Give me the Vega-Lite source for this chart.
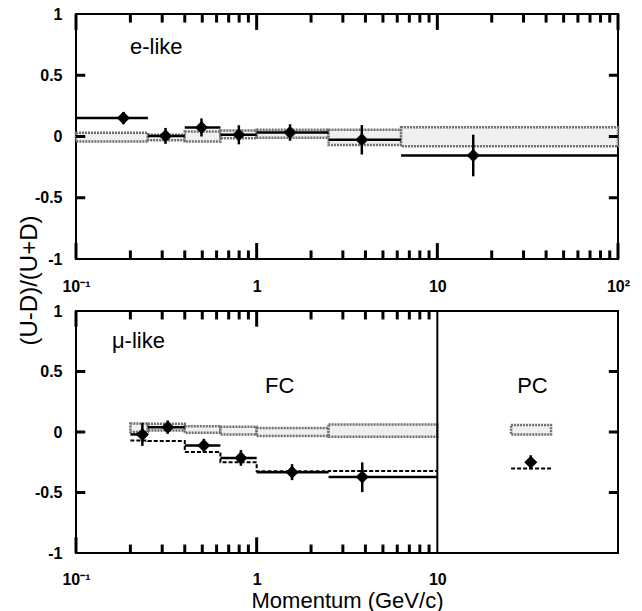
{
  "$schema": "https://vega.github.io/schema/vega-lite/v6.json",
  "background": "white",
  "padding": {"left": 16, "top": 5, "right": 5, "bottom": 0},
  "config": {
    "font": "Liberation Sans",
    "view": {"stroke": "black", "strokeWidth": 2},
    "axis": {
      "domain": false, "grid": false, "ticks": false,
      "labelColor": "black", "labelFont": "Liberation Sans", "labelFontSize": 16, "labelFontWeight": "bold",
      "titleColor": "black", "titleFont": "Liberation Sans", "titleFontWeight": "normal",
      "labelOverlap": false, "labelFlush": false
    }
  },
  "datasets": {
    "e": [
      {"lo": 0.1, "hi": 0.25, "p": 0.183, "a": 0.151, "alo": 0.10, "ahi": 0.20, "mlo": -0.04, "mhi": 0.03},
      {"lo": 0.25, "hi": 0.4, "p": 0.313, "a": 0.005, "alo": -0.06, "ahi": 0.07, "mlo": -0.03, "mhi": 0.015},
      {"lo": 0.4, "hi": 0.63, "p": 0.495, "a": 0.074, "alo": 0.0, "ahi": 0.148, "mlo": -0.04, "mhi": 0.04},
      {"lo": 0.63, "hi": 1.0, "p": 0.797, "a": 0.014, "alo": -0.064, "ahi": 0.092, "mlo": -0.015, "mhi": 0.05},
      {"lo": 1.0, "hi": 2.5, "p": 1.53, "a": 0.033, "alo": -0.035, "ahi": 0.10, "mlo": -0.01, "mhi": 0.055},
      {"lo": 2.5, "hi": 6.3, "p": 3.82, "a": -0.027, "alo": -0.147, "ahi": 0.093, "mlo": -0.07, "mhi": 0.055},
      {"lo": 6.3, "hi": 100, "p": 15.8, "a": -0.155, "alo": -0.325, "ahi": 0.015, "mlo": -0.08, "mhi": 0.075}
    ],
    "mu": [
      {"lo": 0.2, "hi": 0.25, "p": 0.233, "a": -0.02, "alo": -0.115, "ahi": 0.075, "mlo": 0.0, "mhi": 0.07},
      {"lo": 0.25, "hi": 0.4, "p": 0.322, "a": 0.04, "alo": -0.015, "ahi": 0.095, "mlo": 0.012, "mhi": 0.068},
      {"lo": 0.4, "hi": 0.63, "p": 0.51, "a": -0.112, "alo": -0.167, "ahi": -0.057, "mlo": -0.007, "mhi": 0.048},
      {"lo": 0.63, "hi": 1.0, "p": 0.818, "a": -0.214, "alo": -0.279, "ahi": -0.149, "mlo": -0.02, "mhi": 0.043},
      {"lo": 1.0, "hi": 2.5, "p": 1.57, "a": -0.332, "alo": -0.398, "ahi": -0.266, "mlo": -0.034, "mhi": 0.034},
      {"lo": 2.5, "hi": 10, "p": 3.84, "a": -0.372, "alo": -0.497, "ahi": -0.251, "mlo": -0.04, "mhi": 0.062}
    ],
    "muosc": [
      {"x": 0.2, "y": -0.07},
      {"x": 0.25, "y": -0.075},
      {"x": 0.4, "y": -0.165},
      {"x": 0.63, "y": -0.25},
      {"x": 1.0, "y": -0.325},
      {"x": 2.5, "y": -0.322},
      {"x": 10, "y": -0.322}
    ],
    "pc": [
      {"lo": 25.6, "hi": 42.6, "p": 32.9, "a": -0.25, "alo": -0.308, "ahi": -0.192, "mlo": -0.02, "mhi": 0.057, "osc": -0.302}
    ],
    "divider": [{"x": 10}],
    "textTop": [{"x": 0.199, "y": 0.73, "t": "e-like"}],
    "textBotLeft": [{"x": 0.158, "y": 0.75, "t": "μ-like"}],
    "textBotCenter": [
      {"x": 1.34, "y": 0.38, "t": "FC"},
      {"x": 33.6, "y": 0.38, "t": "PC"}
    ],
    "xticks": [
      {"v": 0.1, "m": 1}, {"v": 0.2, "m": 0}, {"v": 0.3, "m": 0}, {"v": 0.4, "m": 0}, {"v": 0.5, "m": 0},
      {"v": 0.6, "m": 0}, {"v": 0.7, "m": 0}, {"v": 0.8, "m": 0}, {"v": 0.9, "m": 0},
      {"v": 1, "m": 1}, {"v": 2, "m": 0}, {"v": 3, "m": 0}, {"v": 4, "m": 0}, {"v": 5, "m": 0},
      {"v": 6, "m": 0}, {"v": 7, "m": 0}, {"v": 8, "m": 0}, {"v": 9, "m": 0},
      {"v": 10, "m": 1}, {"v": 20, "m": 0}, {"v": 30, "m": 0}, {"v": 40, "m": 0}, {"v": 50, "m": 0},
      {"v": 60, "m": 0}, {"v": 70, "m": 0}, {"v": 80, "m": 0}, {"v": 90, "m": 0}, {"v": 100, "m": 1}
    ],
    "yticks": [{"v": -0.5}, {"v": 0}, {"v": 0.5}]
  },
  "bounds": "flush",
  "spacing": 52,
  "vconcat": [
    {
      "width": 542,
      "height": 245,
      "resolve": {"axis": {"x": "independent", "y": "independent"}},
      "layer": [
        {
          "data": {"name": "e"},
          "mark": {"type": "rect", "fill": "#f0f0f0", "stroke": "#6e6e6e", "strokeWidth": 2.5, "strokeDash": [2, 1]},
          "encoding": {
            "x": {"field": "lo", "type": "quantitative",
              "scale": {"type": "log", "domain": [0.1, 100], "nice": false},
              "axis": {"orient": "bottom", "title": null, "ticks": false,
                "values": [0.1, 1, 10, 100],
                "labelPadding": 19,
                "labelExpr": "datum.value == 0.1 ? '10⁻¹' : datum.value == 1 ? '1' : datum.value == 10 ? '10' : datum.value == 100 ? '10²' : ''"}},
            "x2": {"field": "hi"},
            "y": {"field": "mlo", "type": "quantitative",
              "scale": {"domain": [-1, 1], "nice": false},
              "axis": {"orient": "left", "values": [-1, -0.5, 0, 0.5, 1], "ticks": false, "labelPadding": 14,
                "labelExpr": "toString(datum.value)",
                "title": "(U-D)/(U+D)", "titleFontSize": 24, "titleX": -47, "titleY": 266,
                "titleAngle": -90, "titleAlign": "center", "titleBaseline": "middle"}},
            "y2": {"field": "mhi"}
          }
        },
        {
          "data": {"name": "e"},
          "mark": {"type": "rule", "strokeWidth": 2.5, "color": "black"},
          "encoding": {
            "x": {"field": "lo", "type": "quantitative", "scale": {"type": "log", "domain": [0.1, 100], "nice": false}, "axis": null},
            "x2": {"field": "hi"},
            "y": {"field": "a", "type": "quantitative", "scale": {"domain": [-1, 1], "nice": false}, "axis": null}
          }
        },
        {
          "data": {"name": "e"},
          "mark": {"type": "rule", "strokeWidth": 2.5, "color": "black"},
          "encoding": {
            "x": {"field": "p", "type": "quantitative", "scale": {"type": "log", "domain": [0.1, 100], "nice": false}, "axis": null},
            "y": {"field": "alo", "type": "quantitative", "scale": {"domain": [-1, 1], "nice": false}, "axis": null},
            "y2": {"field": "ahi"}
          }
        },
        {
          "data": {"name": "e"},
          "mark": {"type": "point", "shape": "diamond", "filled": true, "size": 170, "color": "black", "opacity": 1},
          "encoding": {
            "x": {"field": "p", "type": "quantitative", "scale": {"type": "log", "domain": [0.1, 100], "nice": false}, "axis": null},
            "y": {"field": "a", "type": "quantitative", "scale": {"domain": [-1, 1], "nice": false}, "axis": null}
          }
        },
        {
          "data": {"name": "textTop"},
          "mark": {"type": "text", "fontSize": 22, "font": "Liberation Sans", "color": "black", "align": "left", "baseline": "middle"},
          "encoding": {
            "x": {"field": "x", "type": "quantitative", "scale": {"type": "log", "domain": [0.1, 100], "nice": false}, "axis": null},
            "y": {"field": "y", "type": "quantitative", "scale": {"domain": [-1, 1], "nice": false}, "axis": null},
            "text": {"field": "t"}
          }
        },
        {
          "data": {"name": "xticks"},
          "transform": [{"filter": "datum.m == 0"}],
          "mark": {"type": "rule", "strokeWidth": 3, "color": "black"},
          "encoding": {
            "x": {"field": "v", "type": "quantitative", "scale": {"type": "log", "domain": [0.1, 100], "nice": false}, "axis": null},
            "y": {"datum": -1, "type": "quantitative", "scale": {"domain": [-1, 1], "nice": false}, "axis": null},
            "y2": {"datum": -0.93}
          }
        },
        {
          "data": {"name": "xticks"},
          "transform": [{"filter": "datum.m == 0"}],
          "mark": {"type": "rule", "strokeWidth": 3, "color": "black"},
          "encoding": {
            "x": {"field": "v", "type": "quantitative", "scale": {"type": "log", "domain": [0.1, 100], "nice": false}, "axis": null},
            "y": {"datum": 1, "type": "quantitative", "scale": {"domain": [-1, 1], "nice": false}, "axis": null},
            "y2": {"datum": 0.93}
          }
        },
        {
          "data": {"name": "xticks"},
          "transform": [{"filter": "datum.m == 1"}],
          "mark": {"type": "rule", "strokeWidth": 3, "color": "black"},
          "encoding": {
            "x": {"field": "v", "type": "quantitative", "scale": {"type": "log", "domain": [0.1, 100], "nice": false}, "axis": null},
            "y": {"datum": -1, "type": "quantitative", "scale": {"domain": [-1, 1], "nice": false}, "axis": null},
            "y2": {"datum": -0.87}
          }
        },
        {
          "data": {"name": "xticks"},
          "transform": [{"filter": "datum.m == 1"}],
          "mark": {"type": "rule", "strokeWidth": 3, "color": "black"},
          "encoding": {
            "x": {"field": "v", "type": "quantitative", "scale": {"type": "log", "domain": [0.1, 100], "nice": false}, "axis": null},
            "y": {"datum": 1, "type": "quantitative", "scale": {"domain": [-1, 1], "nice": false}, "axis": null},
            "y2": {"datum": 0.87}
          }
        },
        {
          "data": {"name": "yticks"},
          "mark": {"type": "rule", "strokeWidth": 3, "color": "black"},
          "encoding": {
            "y": {"field": "v", "type": "quantitative", "scale": {"domain": [-1, 1], "nice": false}, "axis": null},
            "x": {"datum": 0.1, "type": "quantitative", "scale": {"type": "log", "domain": [0.1, 100], "nice": false}, "axis": null},
            "x2": {"datum": 0.1125}
          }
        },
        {
          "data": {"name": "yticks"},
          "mark": {"type": "rule", "strokeWidth": 3, "color": "black"},
          "encoding": {
            "y": {"field": "v", "type": "quantitative", "scale": {"domain": [-1, 1], "nice": false}, "axis": null},
            "x": {"datum": 89, "type": "quantitative", "scale": {"type": "log", "domain": [0.1, 100], "nice": false}, "axis": null},
            "x2": {"datum": 100}
          }
        }
      ]
    },
    {
      "width": 542,
      "height": 242,
      "resolve": {"axis": {"x": "independent", "y": "independent"}},
      "layer": [
        {
          "data": {"name": "mu"},
          "mark": {"type": "rect", "fill": "#f0f0f0", "stroke": "#6e6e6e", "strokeWidth": 2.5, "strokeDash": [2, 1]},
          "encoding": {
            "x": {"field": "lo", "type": "quantitative",
              "scale": {"type": "log", "domain": [0.1, 100], "nice": false},
              "axis": {"orient": "bottom", "ticks": false,
                "values": [0.1, 1, 10],
                "labelPadding": 18,
                "labelExpr": "datum.value == 0.1 ? '10⁻¹' : datum.value == 1 ? '1' : datum.value == 10 ? '10' : ''",
                "title": "Momentum (GeV/c)", "titleFontSize": 22, "titleY": 47, "titleBaseline": "middle"}},
            "x2": {"field": "hi"},
            "y": {"field": "mlo", "type": "quantitative",
              "scale": {"domain": [-1, 1], "nice": false},
              "axis": {"orient": "left", "values": [-1, -0.5, 0, 0.5, 1], "ticks": false, "labelPadding": 14,
                "labelExpr": "toString(datum.value)", "title": null}},
            "y2": {"field": "mhi"}
          }
        },
        {
          "data": {"name": "mu"},
          "mark": {"type": "rule", "strokeWidth": 2.5, "color": "black"},
          "encoding": {
            "x": {"field": "lo", "type": "quantitative", "scale": {"type": "log", "domain": [0.1, 100], "nice": false}, "axis": null},
            "x2": {"field": "hi"},
            "y": {"field": "a", "type": "quantitative", "scale": {"domain": [-1, 1], "nice": false}, "axis": null}
          }
        },
        {
          "data": {"name": "pc"},
          "mark": {"type": "rect", "fill": "#f0f0f0", "stroke": "#6e6e6e", "strokeWidth": 2.5, "strokeDash": [2, 1]},
          "encoding": {
            "x": {"field": "lo", "type": "quantitative", "scale": {"type": "log", "domain": [0.1, 100], "nice": false}, "axis": null},
            "x2": {"field": "hi"},
            "y": {"field": "mlo", "type": "quantitative", "scale": {"domain": [-1, 1], "nice": false}, "axis": null},
            "y2": {"field": "mhi"}
          }
        },
        {
          "data": {"name": "pc"},
          "mark": {"type": "rule", "strokeWidth": 2, "color": "black", "strokeDash": [4, 2]},
          "encoding": {
            "x": {"field": "lo", "type": "quantitative", "scale": {"type": "log", "domain": [0.1, 100], "nice": false}, "axis": null},
            "x2": {"field": "hi"},
            "y": {"field": "osc", "type": "quantitative", "scale": {"domain": [-1, 1], "nice": false}, "axis": null}
          }
        },
        {
          "data": {"name": "muosc"},
          "mark": {"type": "line", "interpolate": "step-after", "strokeWidth": 2, "color": "black", "strokeDash": [4, 2]},
          "encoding": {
            "x": {"field": "x", "type": "quantitative", "scale": {"type": "log", "domain": [0.1, 100], "nice": false}, "axis": null},
            "y": {"field": "y", "type": "quantitative", "scale": {"domain": [-1, 1], "nice": false}, "axis": null}
          }
        },
        {
          "data": {"name": "mu"},
          "mark": {"type": "rule", "strokeWidth": 2.5, "color": "black"},
          "encoding": {
            "x": {"field": "p", "type": "quantitative", "scale": {"type": "log", "domain": [0.1, 100], "nice": false}, "axis": null},
            "y": {"field": "alo", "type": "quantitative", "scale": {"domain": [-1, 1], "nice": false}, "axis": null},
            "y2": {"field": "ahi"}
          }
        },
        {
          "data": {"name": "pc"},
          "mark": {"type": "rule", "strokeWidth": 2.5, "color": "black"},
          "encoding": {
            "x": {"field": "p", "type": "quantitative", "scale": {"type": "log", "domain": [0.1, 100], "nice": false}, "axis": null},
            "y": {"field": "alo", "type": "quantitative", "scale": {"domain": [-1, 1], "nice": false}, "axis": null},
            "y2": {"field": "ahi"}
          }
        },
        {
          "data": {"name": "mu"},
          "mark": {"type": "point", "shape": "diamond", "filled": true, "size": 170, "color": "black", "opacity": 1},
          "encoding": {
            "x": {"field": "p", "type": "quantitative", "scale": {"type": "log", "domain": [0.1, 100], "nice": false}, "axis": null},
            "y": {"field": "a", "type": "quantitative", "scale": {"domain": [-1, 1], "nice": false}, "axis": null}
          }
        },
        {
          "data": {"name": "pc"},
          "mark": {"type": "point", "shape": "diamond", "filled": true, "size": 170, "color": "black", "opacity": 1},
          "encoding": {
            "x": {"field": "p", "type": "quantitative", "scale": {"type": "log", "domain": [0.1, 100], "nice": false}, "axis": null},
            "y": {"field": "a", "type": "quantitative", "scale": {"domain": [-1, 1], "nice": false}, "axis": null}
          }
        },
        {
          "data": {"name": "divider"},
          "mark": {"type": "rule", "strokeWidth": 2, "color": "black"},
          "encoding": {
            "x": {"field": "x", "type": "quantitative", "scale": {"type": "log", "domain": [0.1, 100], "nice": false}, "axis": null}
          }
        },
        {
          "data": {"name": "textBotLeft"},
          "mark": {"type": "text", "fontSize": 22, "font": "Liberation Sans", "color": "black", "align": "left", "baseline": "middle"},
          "encoding": {
            "x": {"field": "x", "type": "quantitative", "scale": {"type": "log", "domain": [0.1, 100], "nice": false}, "axis": null},
            "y": {"field": "y", "type": "quantitative", "scale": {"domain": [-1, 1], "nice": false}, "axis": null},
            "text": {"field": "t"}
          }
        },
        {
          "data": {"name": "textBotCenter"},
          "mark": {"type": "text", "fontSize": 22, "font": "Liberation Sans", "color": "black", "align": "center", "baseline": "middle"},
          "encoding": {
            "x": {"field": "x", "type": "quantitative", "scale": {"type": "log", "domain": [0.1, 100], "nice": false}, "axis": null},
            "y": {"field": "y", "type": "quantitative", "scale": {"domain": [-1, 1], "nice": false}, "axis": null},
            "text": {"field": "t"}
          }
        },
        {
          "data": {"name": "xticks"},
          "transform": [{"filter": "datum.m == 0 && datum.v < 10"}],
          "mark": {"type": "rule", "strokeWidth": 3, "color": "black"},
          "encoding": {
            "x": {"field": "v", "type": "quantitative", "scale": {"type": "log", "domain": [0.1, 100], "nice": false}, "axis": null},
            "y": {"datum": -1, "type": "quantitative", "scale": {"domain": [-1, 1], "nice": false}, "axis": null},
            "y2": {"datum": -0.93}
          }
        },
        {
          "data": {"name": "xticks"},
          "transform": [{"filter": "datum.m == 0 && datum.v < 10"}],
          "mark": {"type": "rule", "strokeWidth": 3, "color": "black"},
          "encoding": {
            "x": {"field": "v", "type": "quantitative", "scale": {"type": "log", "domain": [0.1, 100], "nice": false}, "axis": null},
            "y": {"datum": 1, "type": "quantitative", "scale": {"domain": [-1, 1], "nice": false}, "axis": null},
            "y2": {"datum": 0.93}
          }
        },
        {
          "data": {"name": "xticks"},
          "transform": [{"filter": "datum.m == 1 && datum.v < 10"}],
          "mark": {"type": "rule", "strokeWidth": 3, "color": "black"},
          "encoding": {
            "x": {"field": "v", "type": "quantitative", "scale": {"type": "log", "domain": [0.1, 100], "nice": false}, "axis": null},
            "y": {"datum": -1, "type": "quantitative", "scale": {"domain": [-1, 1], "nice": false}, "axis": null},
            "y2": {"datum": -0.87}
          }
        },
        {
          "data": {"name": "xticks"},
          "transform": [{"filter": "datum.m == 1 && datum.v < 10"}],
          "mark": {"type": "rule", "strokeWidth": 3, "color": "black"},
          "encoding": {
            "x": {"field": "v", "type": "quantitative", "scale": {"type": "log", "domain": [0.1, 100], "nice": false}, "axis": null},
            "y": {"datum": 1, "type": "quantitative", "scale": {"domain": [-1, 1], "nice": false}, "axis": null},
            "y2": {"datum": 0.87}
          }
        },
        {
          "data": {"name": "yticks"},
          "mark": {"type": "rule", "strokeWidth": 3, "color": "black"},
          "encoding": {
            "y": {"field": "v", "type": "quantitative", "scale": {"domain": [-1, 1], "nice": false}, "axis": null},
            "x": {"datum": 0.1, "type": "quantitative", "scale": {"type": "log", "domain": [0.1, 100], "nice": false}, "axis": null},
            "x2": {"datum": 0.1125}
          }
        },
        {
          "data": {"name": "yticks"},
          "mark": {"type": "rule", "strokeWidth": 3, "color": "black"},
          "encoding": {
            "y": {"field": "v", "type": "quantitative", "scale": {"domain": [-1, 1], "nice": false}, "axis": null},
            "x": {"datum": 89, "type": "quantitative", "scale": {"type": "log", "domain": [0.1, 100], "nice": false}, "axis": null},
            "x2": {"datum": 100}
          }
        }
      ]
    }
  ]
}
